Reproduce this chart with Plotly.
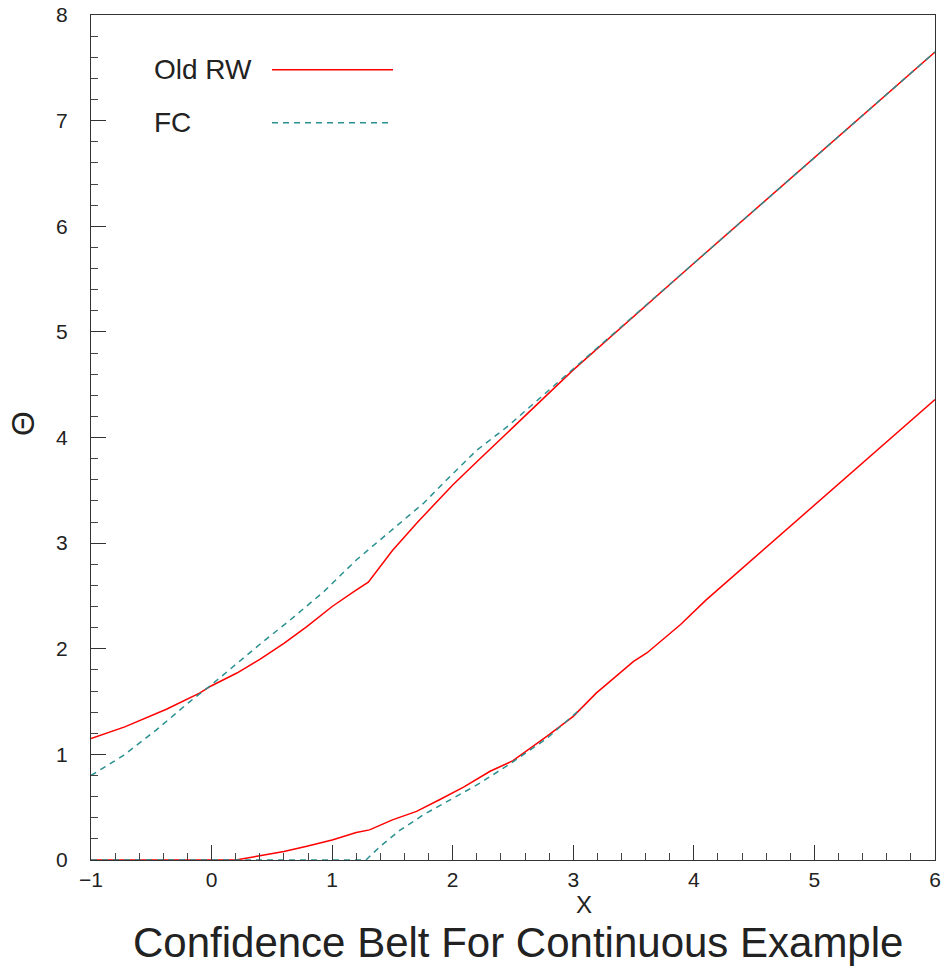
import plotly.graph_objects as go

# Upper edge of belt, old Rothman-Woodroofe ("Old RW")
rw_up_x = [-1.0, -0.72, -0.37, -0.1, 0.0, 0.21, 0.4, 0.6, 0.79, 1.0, 1.18, 1.3,
           1.5, 1.71, 1.9, 2.0, 2.2, 2.45, 2.72, 3.0, 4.0, 5.0, 6.0]
rw_up_y = [1.15, 1.26, 1.43, 1.58, 1.65, 1.77, 1.90, 2.05, 2.21, 2.40, 2.54, 2.63,
           2.93, 3.20, 3.43, 3.55, 3.77, 4.04, 4.34, 4.64, 5.65, 6.65, 7.65]

# Lower edge, Old RW
rw_lo_x = [-1.0, 0.2, 0.4, 0.6, 0.79, 1.0, 1.2, 1.31, 1.5, 1.7, 1.89, 2.09, 2.31,
           2.5, 2.78, 3.0, 3.19, 3.5, 3.61, 3.89, 4.1, 5.0, 6.0]
rw_lo_y = [0.0, 0.0, 0.04, 0.08, 0.13, 0.19, 0.26, 0.285, 0.38, 0.46, 0.57, 0.69, 0.84,
           0.94, 1.17, 1.36, 1.58, 1.88, 1.96, 2.23, 2.46, 3.36, 4.36]

# Upper edge, Feldman-Cousins ("FC")
fc_up_x = [-1.0, -0.73, -0.46, -0.18, 0.0, 0.21, 0.43, 0.65, 0.93, 1.2, 1.48, 1.76,
           1.95, 2.2, 2.45, 2.72, 3.0, 4.0, 5.0, 6.0]
fc_up_y = [0.80, 0.99, 1.23, 1.50, 1.66, 1.86, 2.07, 2.27, 2.54, 2.84, 3.11, 3.38,
           3.60, 3.88, 4.10, 4.37, 4.65, 5.65, 6.65, 7.65]

# Lower edge, FC
fc_lo_x = [-1.0, 1.28, 1.4, 1.56, 1.76, 1.98, 2.17, 2.23, 2.48, 2.78, 3.07]
fc_lo_y = [0.0, 0.0, 0.13, 0.28, 0.43, 0.57, 0.69, 0.73, 0.915, 1.15, 1.44]

legend_labels = ["Old RW", "FC"]
x_range = [-1, 6]
y_range = [0, 8]

RED = "#ff0000"
TEAL = "#2a9090"
FONT = "Liberation Sans"
TXT = "#222222"

fig = go.Figure()
rw_line = dict(color=RED, width=1.5)
fc_line = dict(color=TEAL, width=1.5, dash="6px,5px")

fig.add_trace(go.Scatter(x=rw_lo_x, y=rw_lo_y, mode="lines", line=rw_line, showlegend=False))
fig.add_trace(go.Scatter(x=rw_up_x, y=rw_up_y, mode="lines", line=rw_line, showlegend=False))
fig.add_trace(go.Scatter(x=fc_lo_x, y=fc_lo_y, mode="lines", line=fc_line, showlegend=False))
fig.add_trace(go.Scatter(x=fc_up_x, y=fc_up_y, mode="lines", line=fc_line, showlegend=False))

axis_common = dict(
    showgrid=False, zeroline=False, showline=True, linecolor="#333333", linewidth=1.2,
    mirror=True, ticks="inside", tickcolor="#333333", ticklen=15, tickwidth=1.2,
    tickfont=dict(family=FONT, size=21, color=TXT),
    minor=dict(ticks="inside", ticklen=7, tickwidth=1.2, tickcolor="#444444", dtick=0.2),
    dtick=1, automargin=False,
)

fig.update_layout(
    width=944, height=968,
    margin=dict(l=91, r=9, t=15, b=108),
    paper_bgcolor="white", plot_bgcolor="white",
    xaxis=dict(range=x_range, tickvals=[-1, 0, 1, 2, 3, 4, 5, 6],
               ticktext=["\u22121", "0", "1", "2", "3", "4", "5", "6"],
               ticklabelstandoff=1, **axis_common),
    yaxis=dict(range=y_range, ticklabelstandoff=18, **axis_common),
    showlegend=False,
)

# Axis titles and main title
fig.add_annotation(text="X", xref="paper", yref="paper", x=(584 - 91) / 844, y=-(904 - 860) / 845,
                   showarrow=False, font=dict(family=FONT, size=24, color=TXT),
                   xanchor="center", yanchor="middle")
fig.add_annotation(text="\u0398", xref="paper", yref="paper", x=-(91 - 23) / 844, y=(860 - 424) / 845,
                   showarrow=False, textangle=-90, font=dict(family=FONT, size=32, color=TXT),
                   xanchor="center", yanchor="middle")
fig.add_annotation(text="Confidence Belt For Continuous Example", xref="paper", yref="paper",
                   x=(518 - 91) / 844, y=-(942 - 860) / 845, showarrow=False,
                   font=dict(family=FONT, size=42, color=TXT), xanchor="center", yanchor="middle")

# Legend (text left, line sample right)
leg_y = [(860 - 69) / 845, (860 - 122) / 845]
leg_styles = [dict(color=RED, width=1.5), dict(color=TEAL, width=1.5, dash="6px,5px")]
for lab, yy, st in zip(legend_labels, leg_y, leg_styles):
    fig.add_annotation(text=lab, xref="paper", yref="paper", x=(152 - 91) / 844, y=yy,
                       showarrow=False, font=dict(family=FONT, size=28, color=TXT),
                       xanchor="left", yanchor="middle")
    fig.add_shape(type="line", xref="paper", yref="paper",
                  x0=(272 - 91) / 844, x1=(393 - 91) / 844, y0=yy - 0.001, y1=yy - 0.001, line=st)

fig.write_html("out.html", config={"displayModeBar": False},
               post_script="document.body.style.margin='0';document.body.style.overflow='hidden';")
